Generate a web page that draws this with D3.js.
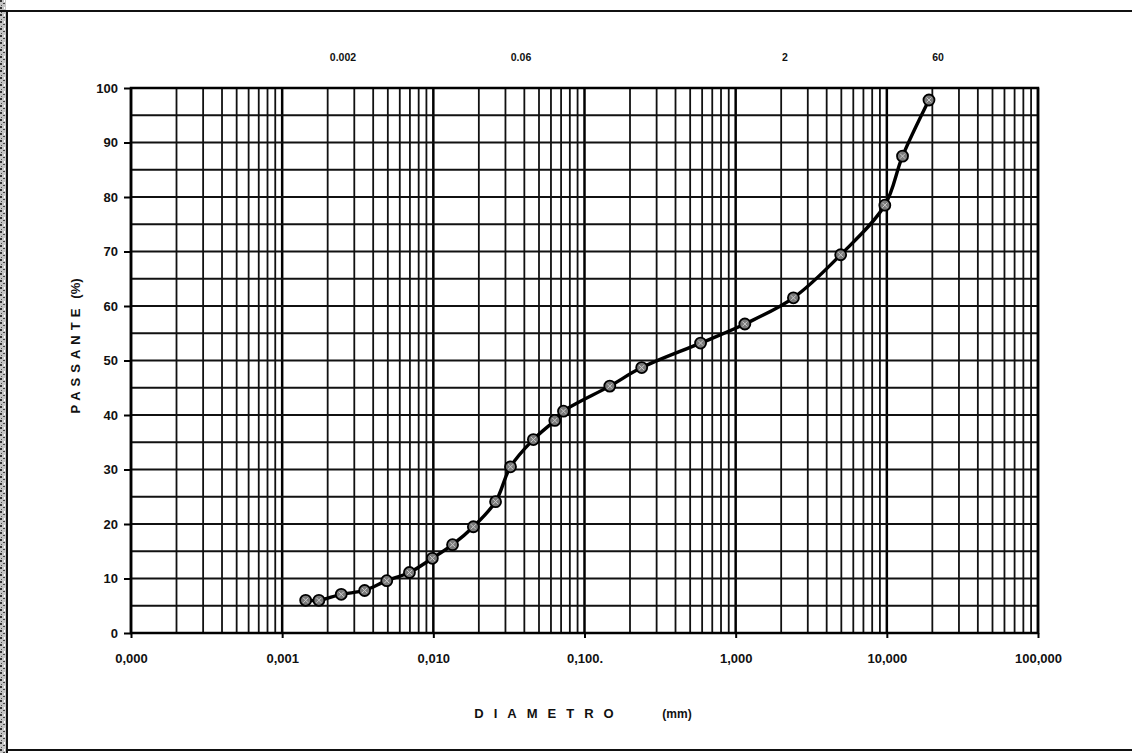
<!DOCTYPE html>
<html>
<head>
<meta charset="utf-8">
<script src="https://cdn.jsdelivr.net/npm/d3@7"></script>
<style>
  html, body { margin: 0; padding: 0; background: #fff; }
  svg { display: block; }
  text { font-family: "Liberation Sans", Arial, sans-serif; font-weight: bold; fill: #111; }
</style>
</head>
<body>
<svg id="chart" width="1132" height="753"></svg>
<script>
// ---------- data ----------
const diameterMM = [0.00143, 0.00175, 0.00246, 0.00351, 0.00492, 0.00695, 0.00985, 0.0134, 0.0184, 0.0258,
                    0.0324, 0.0459, 0.0636, 0.0726, 0.147, 0.239, 0.586, 1.15, 2.41, 4.95, 9.7, 12.7, 19];
const passingPct = [6.0, 6.0, 7.1, 7.8, 9.6, 11.1, 13.7, 16.2, 19.5, 24.1,
                    30.5, 35.5, 39.0, 40.7, 45.3, 48.7, 53.2, 56.7, 61.5, 69.4, 78.5, 87.5, 97.8];
const xTickValues = [0.0001, 0.001, 0.01, 0.1, 1, 10, 100];
const xTickLabels = ["0,000", "0,001", "0,010", "0,100.", "1,000", "10,000", "100,000"];
const yTickValues = [0, 10, 20, 30, 40, 50, 60, 70, 80, 90, 100];
const zoneLabels = ["0.002", "0.06", "2", "60"];
const yTitle = "PASSANTE";
const yUnit = "(%)";
const xTitle = "DIAMETRO";
const xUnit = "(mm)";

// ---------- layout ----------
const L = 131, R = 1038, T = 88, B = 633;
const zoneLabelX = [343, 521, 785, 938];
const zoneLabelY = 61;

const svg = d3.select("#chart");

// page frame (scanned sheet)
const defs = svg.append("defs");
const pat = defs.append("pattern").attr("id", "scan").attr("width", 6).attr("height", 7)
  .attr("patternUnits", "userSpaceOnUse");
pat.append("rect").attr("width", 6).attr("height", 7).attr("fill", "#c4c4c4");
pat.append("rect").attr("x", 0).attr("y", 0).attr("width", 2).attr("height", 2).attr("fill", "#333");
pat.append("rect").attr("x", 3).attr("y", 3).attr("width", 2).attr("height", 1).attr("fill", "#444");
pat.append("rect").attr("x", 1).attr("y", 5).attr("width", 1).attr("height", 1).attr("fill", "#555");
pat.append("rect").attr("x", 4).attr("y", 0).attr("width", 1).attr("height", 2).attr("fill", "#fff");
svg.append("rect").attr("x", 0).attr("y", 0).attr("width", 6).attr("height", 753).attr("fill", "url(#scan)");
svg.append("line").attr("x1", 7).attr("x2", 7).attr("y1", 10).attr("y2", 753).attr("stroke", "#111").attr("stroke-width", 2);
svg.append("line").attr("x1", 0).attr("x2", 1132).attr("y1", 11).attr("y2", 11).attr("stroke", "#111").attr("stroke-width", 2);
svg.append("line").attr("x1", 7).attr("x2", 1132).attr("y1", 750).attr("y2", 750).attr("stroke", "#111").attr("stroke-width", 2);

// ---------- scales ----------
const x = d3.scaleLog().domain([xTickValues[0], xTickValues[xTickValues.length - 1]]).range([L, R]);
const y = d3.scaleLinear().domain([0, 100]).range([B, T]);

// ---------- grid ----------
const minorX = [];
for (let i = 0; i < xTickValues.length - 1; i++) {
  for (let k = 2; k <= 9; k++) minorX.push(xTickValues[i] * k);
}
const grid = svg.append("g");
grid.selectAll("line.vmin").data(minorX).join("line")
  .attr("x1", d => x(d)).attr("x2", d => x(d)).attr("y1", T).attr("y2", B)
  .attr("stroke", "#111").attr("stroke-width", 1.8);
grid.selectAll("line.vmaj").data(xTickValues).join("line")
  .attr("x1", d => x(d)).attr("x2", d => x(d)).attr("y1", T).attr("y2", B)
  .attr("stroke", "#000").attr("stroke-width", 2.5);
grid.selectAll("line.h").data(d3.range(5, 100, 5)).join("line")
  .attr("x1", L).attr("x2", R).attr("y1", d => y(d)).attr("y2", d => y(d))
  .attr("stroke", "#111").attr("stroke-width", 2);

// border
svg.append("rect").attr("x", L).attr("y", T).attr("width", R - L).attr("height", B - T)
  .attr("fill", "none").attr("stroke", "#000").attr("stroke-width", 2.5);

// ---------- axes ----------
const yAxis = d3.axisLeft(y).tickValues(yTickValues).tickSize(7).tickPadding(6);
const gy = svg.append("g").attr("transform", `translate(${L},0)`).call(yAxis);
gy.select(".domain").remove();
gy.selectAll(".tick line").attr("stroke", "#000").attr("stroke-width", 2);
gy.selectAll(".tick text").style("font-size", "13px").style("font-family", "Liberation Sans, Arial, sans-serif")
  .style("font-weight", "bold").attr("fill", "#111");

const xAxis = d3.axisBottom(x).tickValues(xTickValues).tickSize(5).tickPadding(16)
  .tickFormat((d, i) => xTickLabels[i]);
const gx = svg.append("g").attr("transform", `translate(0,${B})`).call(xAxis);
gx.select(".domain").remove();
gx.selectAll(".tick line").attr("stroke", "#000").attr("stroke-width", 2);
gx.selectAll(".tick text").style("font-size", "13px").style("font-family", "Liberation Sans, Arial, sans-serif")
  .style("font-weight", "bold").attr("fill", "#111");

// axis titles
const yt = svg.append("text").attr("transform", `translate(80,346) rotate(-90)`)
  .attr("text-anchor", "middle").style("font-size", "13px");
yt.append("tspan").style("letter-spacing", "5px").text(yTitle);
yt.append("tspan").attr("dx", 5).text(yUnit);

svg.append("text").attr("x", 549).attr("y", 718).attr("text-anchor", "middle")
  .style("font-size", "13px").style("letter-spacing", "10px").text(xTitle);
svg.append("text").attr("x", 677).attr("y", 718).attr("text-anchor", "middle")
  .style("font-size", "12px").text(xUnit);

// zone boundary labels (top)
svg.selectAll("text.zone").data(zoneLabels).join("text")
  .attr("x", (d, i) => zoneLabelX[i]).attr("y", zoneLabelY).attr("text-anchor", "middle")
  .style("font-size", "10.5px").text(d => d);

// ---------- curve ----------
const pts = diameterMM.map((d, i) => [x(d), y(passingPct[i])]);
const line = d3.line().curve(d3.curveCatmullRom.alpha(0.5));
svg.append("path").attr("d", line(pts)).attr("fill", "none").attr("stroke", "#000").attr("stroke-width", 3.4);

const mk = svg.append("g");
mk.selectAll("circle").data(pts).join("circle")
  .attr("cx", d => d[0]).attr("cy", d => d[1]).attr("r", 5.5)
  .attr("fill", "#7a7a7a").attr("stroke", "#000").attr("stroke-width", 1.8);
mk.selectAll("path.x").data(pts).join("path")
  .attr("d", d => `M${d[0] - 2.5},${d[1] - 2.5}L${d[0] + 2.5},${d[1] + 2.5}M${d[0] - 2.5},${d[1] + 2.5}L${d[0] + 2.5},${d[1] - 2.5}`)
  .attr("stroke", "#ccc").attr("stroke-width", 1);
</script>
</body>
</html>
